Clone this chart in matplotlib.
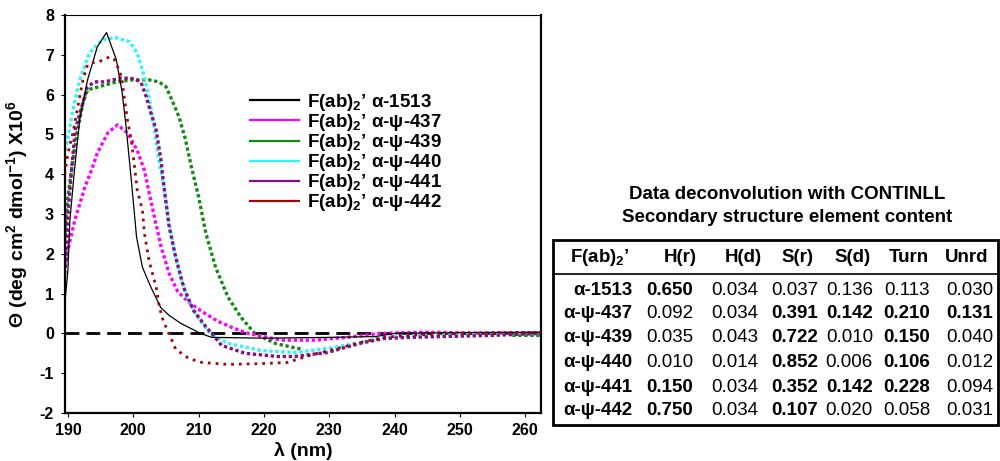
import numpy as np
import matplotlib
matplotlib.use("Agg")
import matplotlib.pyplot as plt
from matplotlib.lines import Line2D
from matplotlib.patches import Rectangle

plt.rcParams['font.family'] = ['Liberation Sans', 'DejaVu Sans']
plt.rcParams['font.weight'] = 'bold'
plt.rcParams['axes.unicode_minus'] = False
plt.rcParams['mathtext.fontset'] = 'custom'
plt.rcParams['mathtext.rm'] = 'Liberation Sans:bold'
plt.rcParams['mathtext.it'] = 'Liberation Sans:bold'
plt.rcParams['mathtext.bf'] = 'Liberation Sans:bold'
plt.rcParams['mathtext.default'] = 'rm'

# CD spectra, wavelength (nm) vs molar ellipticity (x10^6)
wl_1513 = [189.55, 190.0, 190.3, 191.0, 191.8, 193.0, 194.5, 195.9, 197.4, 198.3, 198.9,
           199.7, 200.5, 201.4, 202.7, 204.2, 205.5, 207.3, 210.3, 212.0, 220.0, 230.0,
           237.0, 240.0, 250.0, 262.4]
cd_1513 = [0.8, 1.6, 2.85, 4.1, 5.37, 6.37, 7.2, 7.56, 6.88, 6.05, 5.19,
           3.85, 2.42, 1.66, 1.16, 0.65, 0.45, 0.25, 0.0, -0.1, -0.12, -0.1,
           -0.08, 0.0, 0.02, 0.03]

wl_437 = [189.55, 189.85, 191.06, 192.6, 193.6, 194.5, 196.1, 197.6, 199.1, 200.6, 201.7,
          202.6, 203.4, 204.3, 205.5, 206.8, 208.5, 210.5, 213.0, 215.5, 217.6, 222.6,
          227.7, 232.7, 237.7, 244.4, 252.0, 262.4]
cd_437 = [1.7, 2.0, 2.85, 3.68, 4.1, 4.53, 5.04, 5.24, 5.04, 4.6, 4.1,
          3.4, 2.8, 2.15, 1.5, 1.05, 0.78, 0.55, 0.3, 0.12, 0.0, -0.17,
          -0.17, -0.1, 0.0, 0.03, 0.01, 0.02]

wl_439 = [189.5, 189.9, 190.6, 191.4, 192.3, 193.0, 194.8, 197.4, 199.8, 202.4, 203.9,
          205.0, 205.9, 207.0, 208.0, 208.9, 210.0, 210.5, 211.1, 212.6, 214.5, 216.5,
          218.6, 221.7, 225.2, 226.0, np.nan, 258.0, 262.4]
cd_439 = [2.3, 3.3, 4.18, 5.04, 5.79, 6.12, 6.2, 6.32, 6.37, 6.37, 6.32,
          6.2, 5.87, 5.44, 4.86, 4.18, 3.43, 3.02, 2.52, 1.66, 0.91, 0.4,
          0.0, -0.25, -0.38, -0.4, np.nan, -0.05, -0.05]

wl_440 = [189.5, 189.85, 190.76, 191.8, 193.3, 195.3, 197.4, 199.4, 200.6, 201.4, 202.4,
          203.2, 203.9, 204.7, 205.2, 205.9, 206.5, 207.3, 208.2, 209.7, 211.5, 212.5,
          214.5, 219.5, 224.7, 229.7, 234.7, 238.3, 243.3, 250.0, 262.4]
cd_440 = [4.6, 4.79, 5.62, 6.37, 7.05, 7.38, 7.43, 7.33, 7.05, 6.62, 5.94,
          5.19, 4.36, 3.7, 3.02, 2.4, 1.9, 1.41, 0.91, 0.45, 0.05, -0.08,
          -0.25, -0.43, -0.48, -0.38, -0.23, -0.1, -0.05, -0.02, 0.0]

wl_441 = [189.5, 189.8, 190.0, 190.5, 191.1, 192.1, 193.0, 194.1, 195.6, 198.2, 200.2,
          201.2, 202.0, 202.7, 203.5, 204.2, 204.7, 205.5, 206.5, 207.7, 209.2, 211.2,
          212.0, 213.5, 217.1, 222.1, 224.7, 229.7, 234.7, 238.3, 242.2, 247.0, 255.0,
          262.4]
cd_441 = [1.5, 2.0, 3.0, 4.0, 5.11, 5.69, 6.2, 6.32, 6.32, 6.42, 6.4,
          6.3, 5.94, 5.54, 5.11, 4.4, 3.68, 2.67, 1.91, 1.16, 0.58, 0.15,
          0.0, -0.3, -0.5, -0.58, -0.58, -0.48, -0.25, -0.13, -0.1, -0.08, -0.05,
          0.0]

wl_442 = [189.5, 190.0, 190.76, 191.5, 192.3, 193.0, 193.8, 194.8, 196.4, 197.1, 197.6,
          198.2, 198.6, 199.1, 199.7, 200.2, 200.6, 201.4, 201.7, 202.4, 203.5, 203.9,
          204.4, 205.2, 205.8, 206.5, 208.5, 210.5, 214.5, 219.5, 223.6, 227.1, 231.2,
          234.7, 238.3, 242.3, 247.9, 262.4]
cd_442 = [4.0, 4.53, 5.04, 5.69, 6.37, 6.75, 6.8, 6.83, 6.95, 6.88, 6.7,
          6.45, 5.94, 5.37, 4.86, 4.18, 3.6, 3.1, 2.52, 1.84, 1.16, 0.75,
          0.4, 0.08, -0.13, -0.4, -0.63, -0.73, -0.78, -0.76, -0.73, -0.55, -0.38,
          -0.23, -0.1, -0.05, 0.0, 0.02]

labels = ["F(ab)$_2$’ α-1513", "F(ab)$_2$’ α-ψ-437", "F(ab)$_2$’ α-ψ-439",
          "F(ab)$_2$’ α-ψ-440", "F(ab)$_2$’ α-ψ-441", "F(ab)$_2$’ α-ψ-442"]
colors = ['#000000', '#ff00ff', '#138a13', '#2ef5f5', '#86108a', '#9a0a0a']

# CONTINLL secondary structure table
tbl_cols = ["F(ab)$_2$’", "H(r)", "H(d)", "S(r)", "S(d)", "Turn", "Unrd"]
tbl_rows = ["α-1513", "α-ψ-437", "α-ψ-439", "α-ψ-440", "α-ψ-441", "α-ψ-442"]
tbl_vals = [["0.650", "0.034", "0.037", "0.136", "0.113", "0.030"],
            ["0.092", "0.034", "0.391", "0.142", "0.210", "0.131"],
            ["0.035", "0.043", "0.722", "0.010", "0.150", "0.040"],
            ["0.010", "0.014", "0.852", "0.006", "0.106", "0.012"],
            ["0.150", "0.034", "0.352", "0.142", "0.228", "0.094"],
            ["0.750", "0.034", "0.107", "0.020", "0.058", "0.031"]]
tbl_bold = [[1, 0, 0, 0, 0, 0],
            [0, 0, 1, 1, 1, 1],
            [0, 0, 1, 0, 1, 0],
            [0, 0, 1, 0, 1, 0],
            [1, 0, 1, 1, 1, 0],
            [1, 0, 1, 0, 0, 0]]

W, H = 1000, 461
fig = plt.figure(figsize=(W / 100, H / 100), dpi=100)
ax = fig.add_axes([65 / W, 1 - 413 / H, 476 / W, 398 / H])


def fx(px):
    return px / W


def fy(py):
    return 1 - py / H


ax.axhline(0, color='black', lw=2, ls=(0, (5, 2.5)), zorder=1)

series = [(wl_439, cd_439, 2), (wl_437, cd_437, 1), (wl_440, cd_440, 3),
          (wl_441, cd_441, 4), (wl_1513, cd_1513, 0), (wl_442, cd_442, 5)]
for wl, cd, i in series:
    if i == 0:
        ax.plot(wl, cd, color=colors[i], lw=0.9, zorder=3)
    elif i == 5:
        ax.plot(wl, cd, color=colors[i], lw=2.0, ls=(0, (1, 1.8)), zorder=3)
    else:
        ax.plot(wl, cd, color=colors[i], lw=2.4, ls=(0, (1, 0.8)), zorder=2)

ax.set_xlim(189.55, 262.4)
ax.set_ylim(-2, 8)
ax.set_xticks(range(190, 261, 10))
ax.set_yticks(range(-2, 9))
for s in ['left', 'bottom', 'right']:
    ax.spines[s].set_linewidth(1.6)
ax.spines['top'].set_linewidth(0.8)
ax.tick_params(axis='both', labelsize=11.5, width=0.8, length=3, direction='out')
ax.tick_params(axis='x', pad=4)
ax.tick_params(axis='y', pad=5)
for t in ax.get_xticklabels() + ax.get_yticklabels():
    t.set_fontweight('bold')

ax.set_xlabel("λ (nm)", fontsize=14, fontweight='bold', labelpad=3)
ax.set_ylabel(r"$\Theta$ (deg cm$^2$ dmol$^{-1}$) X10$^6$", fontsize=14,
              fontweight='bold', labelpad=7)

handles = [Line2D([], [], color=c, lw=1.6) for c in colors]
fig.legend(handles, labels, loc='upper left', bbox_to_anchor=(fx(250), fy(92)),
           frameon=False, fontsize=13.5, handlelength=2.6, handletextpad=0.45,
           labelspacing=-0.05, borderpad=0, borderaxespad=0)

# table title
fig.text(fx(787), fy(194), "Data deconvolution with CONTINLL", ha='center', va='center',
         fontsize=13.5, fontweight='bold')
fig.text(fx(787), fy(217), "Secondary structure element content", ha='center',
         va='center', fontsize=13.5, fontweight='bold')

# table frame
box_l, box_r, box_t, box_b = 553, 998, 240, 425
fig.add_artist(Rectangle((fx(box_l), fy(box_b)), fx(box_r) - fx(box_l),
                         fy(box_t) - fy(box_b), transform=fig.transFigure,
                         fill=False, lw=2.0, ec='black'))
fig.add_artist(Line2D([fx(box_l), fx(box_r)], [fy(274), fy(274)],
                      transform=fig.transFigure, color='black', lw=1.2))

col_centers = [600, 680, 743, 797, 853, 909, 967]
val_rights = [693, 758, 818, 873, 930, 993]
row_ys = [290, 313, 337, 362, 387, 410]
for j, name in enumerate(tbl_cols):
    fig.text(fx(col_centers[j]), fy(257), name, ha='center', va='center',
             fontsize=13.5, fontweight='bold')
for i, name in enumerate(tbl_rows):
    fig.text(fx(632), fy(row_ys[i]), name, ha='right', va='center',
             fontsize=13.5, fontweight='bold')
    for j, v in enumerate(tbl_vals[i]):
        fig.text(fx(val_rights[j]), fy(row_ys[i]), v, ha='right', va='center',
                 fontsize=13.5, fontweight='bold' if tbl_bold[i][j] else 'normal')

fig.savefig("out.png", dpi=100)
